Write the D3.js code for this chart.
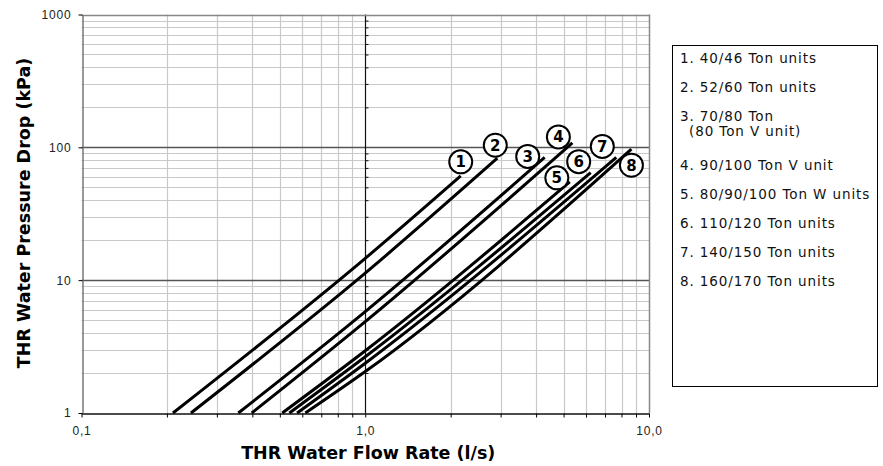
<!DOCTYPE html>
<html>
<head>
<meta charset="utf-8">
<script src="https://d3js.org/d3.v7.min.js"></script>
<style>
body { margin: 0; background: #fff; }
text { font-family: "DejaVu Sans", Verdana, sans-serif; }
</style>
</head>
<body>
<svg width="883" height="466"></svg>
<script>
// chart data
var xTickLabels = ["0,1", "1,0", "10,0"];
var xTickValues = [0.1, 1, 10];
var yTickValues = [1, 10, 100, 1000];

var unitNames = ["40/46 Ton units", "52/60 Ton units", "70/80 Ton|(80 Ton V unit)",
  "90/100 Ton V unit", "80/90/100 Ton W units", "110/120 Ton units",
  "140/150 Ton units", "160/170 Ton units"];

// flow (l/s) and pressure drop (kPa) for each curve
var flow1 = [0.21, 1.0, 2.17],  drop1 = [1, 14.6, 61];
var flow2 = [0.243, 1.0, 2.92], drop2 = [1, 11.3, 82.8];
var flow3 = [0.357, 1.0, 4.29], drop3 = [1, 5.8, 84];
var flow4 = [0.398, 1.0, 5.37], drop4 = [1, 4.87, 108];
var flow5 = [0.51, 1.0, 5.26],  drop5 = [1, 2.94, 55];
var flow6 = [0.54, 1.0, 6.23],  drop6 = [1, 2.65, 64.5];
var flow7 = [0.575, 1.0, 7.67], drop7 = [1, 2.37, 84];
var flow8 = [0.615, 1.0, 8.67], drop8 = [1, 2.05, 96.8];

var flows = [flow1, flow2, flow3, flow4, flow5, flow6, flow7, flow8];
var drops = [drop1, drop2, drop3, drop4, drop5, drop6, drop7, drop8];

// where the numbered callouts sit, relative to the end of each curve (px)
var calloutOffset = [[0,-14],[-2,-13],[-17,-1],[-14,-6],[-13,-4],[-12,-11],[-14,-11],[0,16]];

var svg = d3.select("svg");

var x = d3.scaleLog().domain([0.1, 10]).range([81.5, 649]);
var y = d3.scaleLog().domain([1, 1000]).range([413, 14.5]);

// minor values inside each decade
function minors(lo, hi) {
  var out = [];
  for (var d = lo; d < hi; d *= 10)
    for (var k = 2; k <= 9; k++) out.push(d * k);
  return out;
}
var xMinor = minors(0.1, 10), yMinor = minors(1, 1000);

var grid = svg.append("g");
grid.selectAll(".vx").data(xMinor).enter().append("line")
  .attr("x1", d => Math.round(x(d)) + 0.5).attr("x2", d => Math.round(x(d)) + 0.5)
  .attr("y1", y(1000)).attr("y2", y(1))
  .style("stroke", "#c9c9c9").style("stroke-width", 1.2);
grid.selectAll(".hy").data(yMinor).enter().append("line")
  .attr("y1", d => Math.round(y(d)) + 0.5).attr("y2", d => Math.round(y(d)) + 0.5)
  .attr("x1", x(0.1)).attr("x2", x(10))
  .style("stroke", "#c9c9c9").style("stroke-width", 1.2);

// major lines
grid.selectAll(".hm").data([10, 100]).enter().append("line")
  .attr("y1", d => Math.round(y(d)) + 0.5).attr("y2", d => Math.round(y(d)) + 0.5)
  .attr("x1", x(0.1)).attr("x2", x(10))
  .style("stroke", "#555").style("stroke-width", 1.3);
grid.append("line")
  .attr("x1", Math.round(x(1)) + 0.5).attr("x2", Math.round(x(1)) + 0.5)
  .attr("y1", y(1000)).attr("y2", y(1))
  .style("stroke", "#111").style("stroke-width", 1.2);

// frame: top and right in gray
grid.append("line").attr("x1", x(0.1)).attr("x2", x(10))
  .attr("y1", Math.round(y(1000)) + 0.5).attr("y2", Math.round(y(1000)) + 0.5)
  .style("stroke", "#888").style("stroke-width", 1.5);
grid.append("line").attr("y1", y(1000)).attr("y2", y(1))
  .attr("x1", Math.round(x(10)) + 0.5).attr("x2", Math.round(x(10)) + 0.5)
  .style("stroke", "#888").style("stroke-width", 1.5);

// small ticks along the 1,0 line
svg.append("g")
  .attr("transform", "translate(" + (Math.round(x(1)) + 0.5) + ",0)")
  .call(d3.axisRight(y).tickValues(yMinor).tickSize(3).tickFormat(""))
  .call(g => g.select(".domain").remove())
  .selectAll("line").style("stroke", "#111");

// bottom axis
var xAxis = svg.append("g")
  .attr("transform", "translate(0," + (Math.round(y(1)) + 0.5) + ")")
  .call(d3.axisBottom(x).tickValues(xTickValues.concat(xMinor)).tickSize(4)
    .tickFormat(d => { var i = xTickValues.indexOf(d); return i >= 0 ? xTickLabels[i] : ""; })
    .tickSizeOuter(0));
xAxis.select(".domain").style("stroke", "#111").style("stroke-width", 1.5);
xAxis.selectAll("text").style("font-size", "12px").style("fill", "#222")
  .style("font-family", "'Liberation Sans', Arial, sans-serif").style("letter-spacing", "0.8px")
  .attr("dy", "1.2em");

// left axis
var yAxis = svg.append("g")
  .attr("transform", "translate(" + (Math.round(x(0.1)) + 0.5) + ",0)")
  .call(d3.axisLeft(y).tickValues(yTickValues).tickSize(4).tickSizeOuter(0)
    .tickFormat(d3.format("d")));
yAxis.select(".domain").style("stroke", "#777").style("stroke-width", 1.5);
yAxis.selectAll("text").style("font-size", "12px").style("fill", "#222")
  .style("font-family", "'Liberation Sans', Arial, sans-serif").style("letter-spacing", "0.8px")
  .attr("x", -11);

// curves
var line = d3.line().x(d => x(d[0])).y(d => y(d[1])).curve(d3.curveMonotoneX);
flows.forEach(function(f, i) {
  var pts = f.map((v, j) => [v, drops[i][j]]);
  svg.append("path").attr("d", line(pts))
    .style("fill", "none").style("stroke", "#000").style("stroke-width", 3);
});

// numbered callouts
flows.forEach(function(f, i) {
  var n = f.length - 1;
  var cx = x(f[n]) + calloutOffset[i][0], cy = y(drops[i][n]) + calloutOffset[i][1];
  var g = svg.append("g").attr("transform", "translate(" + cx + "," + cy + ")");
  g.append("circle").attr("r", 11.5)
    .style("fill", "#fff").style("stroke", "#000").style("stroke-width", 2);
  g.append("text").text(i + 1).attr("text-anchor", "middle").attr("dy", "0.37em")
    .style("font-size", "15px").style("font-weight", "bold");
});

// axis titles
svg.append("text").text("THR Water Flow Rate (l/s)")
  .attr("x", x(1) + 3).attr("y", 459).attr("text-anchor", "middle")
  .style("font-size", "17.5px").style("font-weight", "bold");
svg.append("text").text("THR Water Pressure Drop (kPa)")
  .attr("transform", "translate(30,213) rotate(-90)").attr("text-anchor", "middle")
  .style("font-size", "17.5px").style("font-weight", "bold");

// legend box
svg.append("rect").attr("x", 672.5).attr("y", 45.5).attr("width", 205).attr("height", 341)
  .style("fill", "#fff").style("stroke", "#000").style("stroke-width", 1);
var ly = 62.5;
unitNames.forEach(function(name, i) {
  var parts = name.split("|");
  parts.forEach(function(p, k) {
    svg.append("text").text(k === 0 ? (i + 1) + ". " + p : p)
      .attr("x", k === 0 ? 680 : 689).attr("y", ly)
      .style("font-size", "13.5px").style("letter-spacing", "0.9px").style("fill", "#111");
    ly += k < parts.length - 1 ? 15 : (parts.length > 1 ? 34 : 29);
  });
});
</script>
</body>
</html>
